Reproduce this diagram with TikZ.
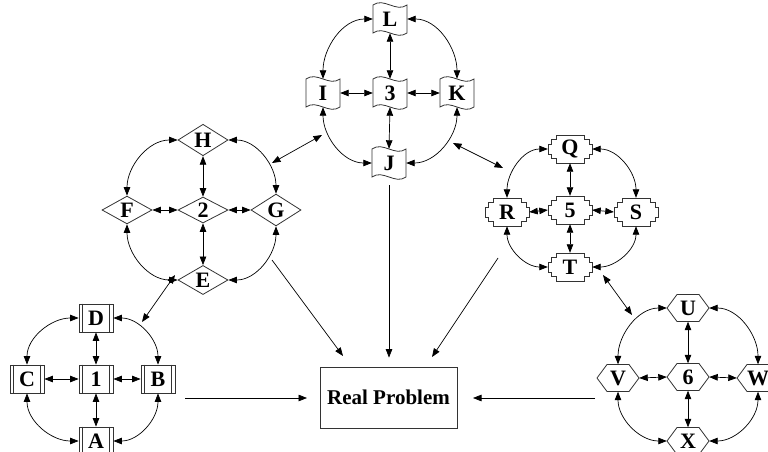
\documentclass[tikz,border=0pt]{standalone}
\usepackage{fontspec}
\setmainfont{Liberation Serif}
\usetikzlibrary{arrows.meta,shapes.geometric,calc}
\tikzset{
  lbl/.style={inner sep=0pt, font=\fontsize{22}{22}\selectfont\bfseries, text=black},
  shp/.style={draw=black!80, line width=0.8pt},
  con/.style={line width=0.7pt, {Triangle[length=8.5pt,width=6.5pt]}-{Triangle[length=8.5pt,width=6.5pt]}},
  feed/.style={line width=0.7pt, -{Triangle[length=8.5pt,width=6.5pt]}},
}
\newcommand{\PPNode}[4]{%
  \node[lbl, shp, rectangle, minimum width=34pt, minimum height=28pt] (#1) at (#2,-#3) {#4};
  \draw[shp] ([xshift=4pt]#1.north west) -- ([xshift=4pt]#1.south west)
             ([xshift=-4pt]#1.north east) -- ([xshift=-4pt]#1.south east);}
\newcommand{\DiaNode}[4]{%
  \node[lbl, shp, diamond, minimum width=50pt, minimum height=26pt] (#1) at (#2,-#3) {#4};}
\newcommand{\TapeNode}[4]{%
  \node[lbl, minimum width=34pt, minimum height=28pt] (#1) at (#2,-#3) {#4};
  \draw[shp, shift={(#1.center)}] (-17,14) .. controls (-6,22) and (6,6) .. (17,14) -- (17,-14)
        .. controls (6,-22) and (-6,-6) .. (-17,-14) -- cycle;}
\newcommand{\StepNode}[4]{%
  \node[lbl, minimum width=44pt, minimum height=28pt] (#1) at (#2,-#3) {#4};
  \draw[shp, shift={(#1.center)}] (-14,14) -- (14,14) -- (14,9.5) -- (19,9.5) -- (19,5) -- (22,5)
        -- (22,-5) -- (19,-5) -- (19,-9.5) -- (14,-9.5) -- (14,-14) -- (-14,-14) -- (-14,-9.5)
        -- (-19,-9.5) -- (-19,-5) -- (-22,-5) -- (-22,5) -- (-19,5) -- (-19,9.5) -- (-14,9.5) -- cycle;}
\newcommand{\HexNode}[4]{%
  \node[lbl, minimum width=42pt, minimum height=27pt] (#1) at (#2,-#3) {#4};
  \draw[shp, shift={(#1.center)}] (-21,0) -- (-11,13.5) -- (11,13.5) -- (21,0) -- (11,-13.5)
        -- (-11,-13.5) -- cycle;}
\newcommand{\ClusterLinks}[5]{%
  \draw[con] (#1.north) -- (#2.south);
  \draw[con] (#1.west) -- (#3.east);
  \draw[con] (#1.east) -- (#4.west);
  \draw[con] (#1.south) -- (#5.north);
  \draw[con] (#2.west) to[out=180,in=90] (#3.north);
  \draw[con] (#2.east) to[out=0,in=90] (#4.north);
  \draw[con] (#3.south) to[out=270,in=180] (#5.west);
  \draw[con] (#4.south) to[out=270,in=0] (#5.east);}
\begin{document}
\begin{tikzpicture}[x=1pt,y=1pt]
\useasboundingbox (0,0) rectangle (768,-452);
% cluster 1
\PPNode{D}{96}{318}{D}
\PPNode{C}{27}{379}{C}
\PPNode{n1}{96}{379}{1}
\PPNode{B}{158}{379}{B}
\PPNode{A}{96}{441}{A}
\ClusterLinks{n1}{D}{C}{B}{A}
% cluster 2
\DiaNode{H}{203}{140}{H}
\DiaNode{F}{127}{210}{F}
\DiaNode{n2}{203}{210}{2}
\DiaNode{G}{276}{210}{G}
\DiaNode{E}{203}{280}{E}
\ClusterLinks{n2}{H}{F}{G}{E}
% cluster 3
\TapeNode{L}{390}{19}{L}
\TapeNode{I}{323}{93}{I}
\TapeNode{n3}{390}{93}{3}
\TapeNode{K}{457}{93}{K}
\TapeNode{J}{389}{163}{J}
\ClusterLinks{n3}{L}{I}{K}{J}
% cluster 5
\StepNode{Q}{570}{149}{Q}
\StepNode{R}{507}{212}{R}
\StepNode{n5}{570}{210}{5}
\StepNode{S}{636}{212}{S}
\StepNode{T}{570}{267}{T}
\ClusterLinks{n5}{Q}{R}{S}{T}
% cluster 6
\HexNode{U}{688}{308}{U}
\HexNode{V}{618}{378}{V}
\HexNode{n6}{688}{377}{6}
\HexNode{W}{758}{378}{W}
\HexNode{X}{688}{441}{X}
\ClusterLinks{n6}{U}{V}{W}{X}
% real problem
\node[lbl, shp, rectangle, minimum width=137pt, minimum height=61pt, font=\fontsize{21}{21}\selectfont\bfseries] (rp) at (388.5,-397.5) {Real Problem};
% inter-cluster links
\coordinate (a12) at (142,-322); \coordinate (b12) at (175,-275);
\coordinate (a23) at (272,-163); \coordinate (b23) at (322,-135);
\coordinate (a35) at (453,-143); \coordinate (b35) at (503,-168);
\coordinate (a56) at (603,-275); \coordinate (b56) at (632,-315);
\draw[con] (a12) -- (b12);
\draw[con] (a23) -- (b23);
\draw[con] (a35) -- (b35);
\draw[con] (a56) -- (b56);
% feeds to real problem
\coordinate (f1) at (185,-398); \coordinate (t1) at (307,-398);
\coordinate (f6) at (595,-398); \coordinate (t6) at (473,-398);
\coordinate (f2) at (272,-260); \coordinate (t2) at (343,-356);
\coordinate (f5) at (498,-258); \coordinate (t5) at (432,-357);
\draw[feed] (f1) -- (t1);
\draw[feed] (f6) -- (t6);
\draw[feed] (f2) -- (t2);
\draw[feed] (f5) -- (t5);
\draw[feed, shorten <=8pt, shorten >=9pt] (J.south) -- (J.south |- rp.north);
\end{tikzpicture}
\end{document}
